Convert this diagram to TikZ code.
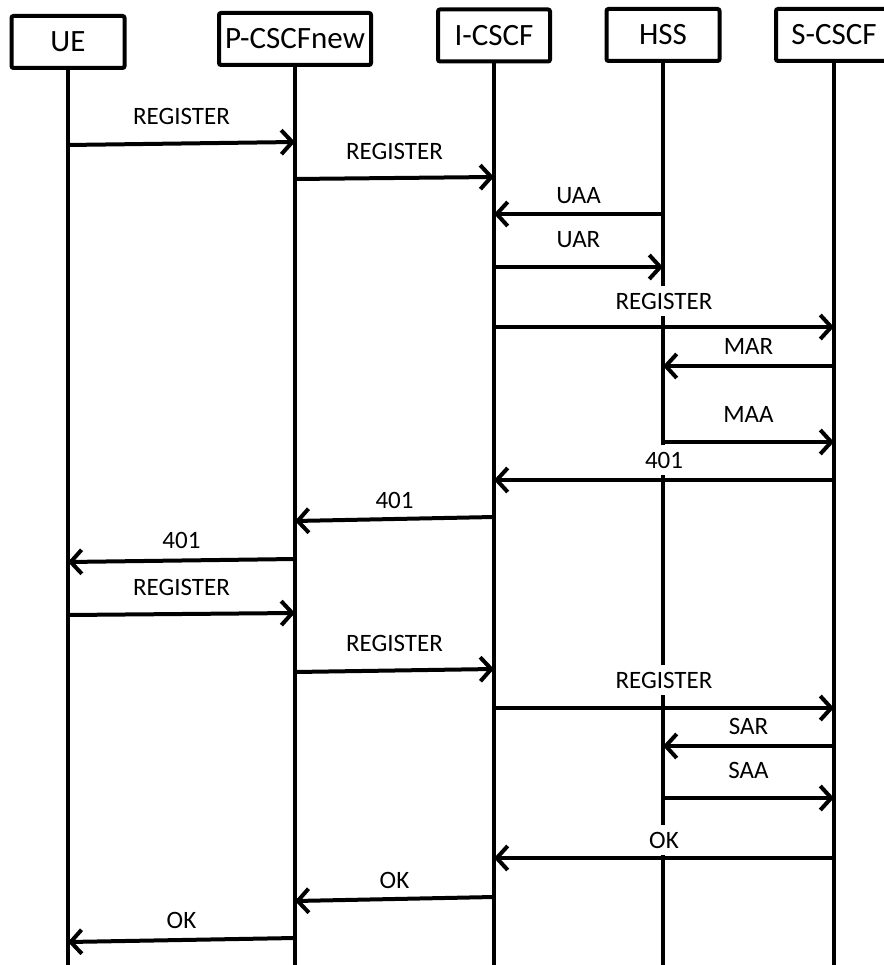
\documentclass[tikz,border=0pt]{standalone}
\usepackage{fontspec}
\setmainfont{Carlito}
\usepackage{tikz}
\usetikzlibrary{arrows.meta}

\begin{document}
\begin{tikzpicture}[
    x=1pt, y=-1pt,
    entity/.style={rectangle, rounded corners=2pt, draw=black, line width=4pt, minimum height=52pt, inner sep=0pt, font=\fontsize{31}{31}\selectfont},
    lifeline/.style={line width=4.5pt},
    msg/.style={line width=4pt, -{Straight Barb[length=11pt, width=24pt]}},
    lbl/.style={fill=white, inner xsep=2pt, inner ysep=7pt, text depth=0pt, font=\fontsize{25}{25}\selectfont}
]
\useasboundingbox (0,0) rectangle (883,965);

% entities
\node[entity, minimum width=113pt] (ue) at (68,42) {UE};
\node[entity, minimum width=152pt] (pcscf) at (295,39) {P-CSCFnew};
\node[entity, minimum width=112pt] (icscf) at (494,35.5) {I-CSCF};
\node[entity, minimum width=113pt] (hss) at (663,35) {HSS};
\node[entity, minimum width=116pt] (scscf) at (834,35) {S-CSCF};

% lifelines
\draw[lifeline] (ue.south) -- (ue |- 0,970);
\draw[lifeline] (pcscf.south) -- (pcscf |- 0,970);
\draw[lifeline] (icscf.south) -- (icscf |- 0,970);
\draw[lifeline] (hss.south) -- (hss |- 0,970);
\draw[lifeline] (scscf.south) -- (scscf |- 0,970);

% first registration
\draw[msg] (ue |- 0,145) -- node[lbl, yshift=27pt] {REGISTER} (pcscf |- 0,142);
\draw[msg] (pcscf |- 0,179) -- node[lbl, yshift=27pt] {REGISTER} (icscf |- 0,177);
\draw[msg] (hss |- 0,214) -- node[lbl, yshift=19pt] {UAA} (icscf |- 0,214);
\draw[msg] (icscf |- 0,267) -- node[lbl, yshift=28pt] {UAR} (hss |- 0,267);
\draw[msg] (icscf |- 0,327) -- node[lbl, yshift=26pt] {REGISTER} (scscf |- 0,327);
\draw[msg] (scscf |- 0,366) -- node[lbl, yshift=20pt] {MAR} (hss |- 0,366);
\draw[msg] (hss |- 0,442) -- node[lbl, yshift=28pt] {MAA} (scscf |- 0,442);
\draw[msg] (scscf |- 0,480) -- node[lbl, yshift=20pt] {401} (icscf |- 0,480);
\draw[msg] (icscf |- 0,517) -- node[lbl, yshift=19pt] {401} (pcscf |- 0,521);
\draw[msg] (pcscf |- 0,559) -- node[lbl, yshift=20pt] {401} (ue |- 0,562);

% second registration
\draw[msg] (ue |- 0,615) -- node[lbl, yshift=27pt] {REGISTER} (pcscf |- 0,613);
\draw[msg] (pcscf |- 0,672) -- node[lbl, yshift=27pt] {REGISTER} (icscf |- 0,669);
\draw[msg] (icscf |- 0,708) -- node[lbl, yshift=28pt] {REGISTER} (scscf |- 0,708);
\draw[msg] (scscf |- 0,746) -- node[lbl, yshift=20pt] {SAR} (hss |- 0,746);
\draw[msg] (hss |- 0,798) -- node[lbl, yshift=28pt] {SAA} (scscf |- 0,798);
\draw[msg] (scscf |- 0,858) -- node[lbl, yshift=18pt] {OK} (icscf |- 0,858);
\draw[msg] (icscf |- 0,897) -- node[lbl, yshift=19pt] {OK} (pcscf |- 0,901);
\draw[msg] (pcscf |- 0,938) -- node[lbl, yshift=20pt] {OK} (ue |- 0,942);

\end{tikzpicture}
\end{document}
